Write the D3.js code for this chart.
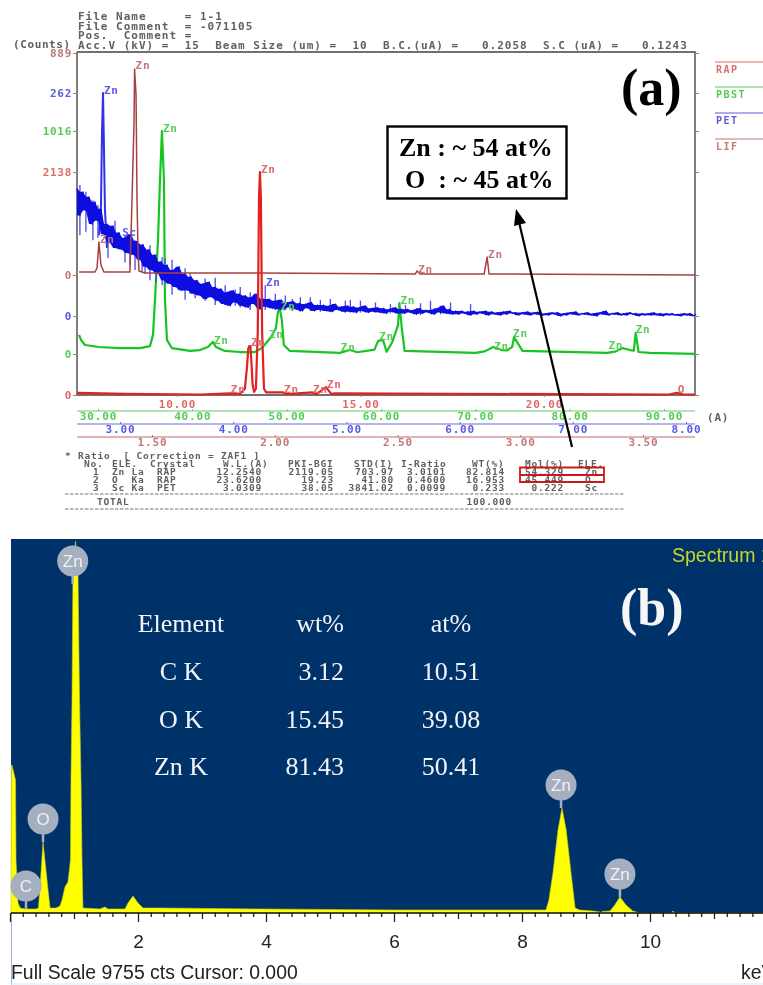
<!DOCTYPE html>
<html><head><meta charset="utf-8">
<script src="https://cdn.jsdelivr.net/npm/d3@7/dist/d3.min.js"></script>
<style>
html,body{margin:0;padding:0;background:#fff;overflow:hidden}
svg{display:block}
text{white-space:pre}
</style></head><body>
<svg id="c" width="763" height="985" xmlns="http://www.w3.org/2000/svg"></svg>
<script>
// ---------- panel (a): WDS spectra; x in Angstrom on each crystal's own axis, y in counts
const rapX=[7.28,8.58,10.63,11.44,11.72,11.85,11.91,11.94,11.97,12.0,12.03,12.06,12.10,12.15,12.2,12.235,12.26,12.285,12.32,12.37,12.43,12.89,13.0,13.68,13.8,14.06,14.2,14.31,23.4,23.62,23.8,24.11];
const rapC=[20,10,5,15,12,60,280,440,470,470,300,100,30,60,600,1900,2138,1900,600,60,25,25,8,25,8,75,10,15,5,22,5,3];
const pbstX=[27.99,28.2,28.62,30.11,32.33,34.45,35.51,35.83,36.04,36.36,36.57,36.78,36.99,37.10,37.31,37.84,39.75,40.81,41.65,42.18,42.5,43.45,45.04,46.63,47.37,48.01,48.43,48.86,49.07,49.28,49.49,49.70,50.34,55.64,56.69,57.5,59.3,59.7,60.2,60.6,61.2,61.8,61.95,62.2,62.5,70.0,71.0,71.9,72.8,73.4,73.9,74.1,75.0,84.0,84.9,85.6,86.4,86.8,87.0,87.3,88.5,93.3];
const pbstC=[87,64,41,32,27,27,36,87,246,519,793,1016,793,246,64,27,14,18,32,55,32,14,9,9,27,59,82,118,191,205,155,41,14,5,18,8,20,60,64,10,55,130,232,120,14,5,12,32,18,16,32,77,14,5,12,27,18,15,96,9,5,1];
const petStart=2.62, petStep=0.02655;
const petC=[150,118,146,124,140,108,134,112,126,96,108,86,106,80,98,78,92,74,96,72,88,66,84,58,78,54,72,50,64,42,60,38,54,34,58,30,50,30,46,26,42,24,38,20,40,22,34,18,32,14,28,12,30,16,26,12,24,10,22,14,26,8,20,11,20,9,18,8,19,7,16,10,17,8,15,6,14,9,16,6,13,7,13,6,12,5,14,7,11,5,12,5,11,4,10,6,12,4,9,5,10,4,9,3,8,5,10,3,8,3,8,4,7,2,9,3,7,4,7,2,9,4,12,3,8,2,6,2,6,3,5,1,6,2,5,3,6,1,5,2,4,1,5,2,6,3,4,1,4,2,5,1,4,2,5,1,3,1,4,2,4,0,3,1,4,2,5,1,3,2,4,1,3,0,4,2,6,1,3,2,4,1,3,1,4,2,3,0,3,1,3,1,4,1,3,0,3,1,3,1,2,0,3,1,3,0,2];
const petPeakX=[2.815,2.832,2.841,2.85,2.858,2.867,2.885];
const petPeakC=[95,130,215,262,200,125,80];
const petSpikeX=[2.646,2.699,2.761,2.805,2.894,2.956,3.044,3.088,3.133,3.195,3.221,3.265,3.319,3.372,3.398,3.46,3.513,3.575,3.619,3.664,3.752,3.841,3.929,4.018,4.062,4.15,4.283,4.372,4.46,4.522,4.593,4.681,4.77,4.858,4.991,5.035,5.124,5.257,5.389,5.522,5.655,5.743,5.832,5.92,6.097,6.717];
const petSpikeHi=[154,146,136,130,107,112,95,92,89,78,80,83,72,69,68,66,54,56,50,42,44,45,36,31,34,28,36,26,24,20,22,22,19,20,18,19,18,16,14,13,15,18,11,16,14,7];
const petSpikeLo=[95,99,89,92,68,80,63,60,54,52,50,42,39,36,38,25,31,19,26,21,18,13,13,12,10,7,7,7,8,6,5,6,5,5,4,4,4,4,3,3,1,2,2,3,1,0];
const lifX=[1.203,1.268,1.276,1.284,1.292,1.304,1.41,1.414,1.418,1.427,1.429,1.435,1.439,1.443,1.447,1.471,1.94,2.572,2.58,2.592,2.853,2.865,2.873,3.713];
const lifC=[12,12,28,132,40,12,12,140,280,621,825,721,300,100,16,8,8,4,16,4,4,72,4,0];

const rapTicks=[10,15,20], pbstTicks=[30,40,50,60,70,80,90], petTicks=[3,4,5,6,7,8], lifTicks=[1.5,2,2.5,3,3.5];
const maxCounts={lif:889,pet:262,pbst:1016,rap:2138};

// peak markers: position on the series' axis, counts, label
const rapPeaks=[[8.58,20,""],[11.44,20,"Zn"],[11.99,470,"Zn"],[12.26,2138,"Zn"],[12.89,25,"Zn"],[13.68,25,"Zn"],[14.06,75,"Zn"],[14.31,15,""],[23.62,22,"O"]];
const pbstPeaks=[[30.11,45,""],[36.36,500,""],[36.78,1016,"Zn"],[42.18,50,"Zn"],[48.01,77,"Zn"],[49.28,205,"Zn"],[55.64,18,"Zn"],[59.7,64,"Zn"],[61.95,232,"Zn"],[71.0,32,""],[71.9,22,"Zn"],[73.9,82,"Zn"],[84.0,27,"Zn"],[86.9,96,"Zn"]];
const petPeaks=[[2.85,262,"Zn"],[3.01,95,"Sc"],[2.88,95,""],[4.28,36,"Zn"]];
const lifPeaks=[[1.284,132,"Zn"],[1.429,825,"Zn"],[2.58,12,"Zn"],[2.865,72,"Zn"]];

const headerLines=["File Name     = 1-1","File Comment  = -071105","Pos.  Comment ="];
const acqLine="Acc.V (kV) =  15  Beam Size (um) =  10  B.C.(uA) =   0.2058  S.C (uA) =   0.1243";
const legendNames=["RAP","PBST","PET","LIF"];
const tableHead=["No.","ELE.","Crystal","W.L.(A)","PKI-BGI","STD(I)","I-Ratio","WT(%)","Mol(%)","ELE."];
const tableRows=[["1","Zn La","RAP","12.2540","2119.05","703.97","3.0101","82.814","54.329","Zn"],
                 ["2","O  Ka","RAP","23.6200","19.23","41.80","0.4600","16.953","45.449","O"],
                 ["3","Sc Ka","PET","3.0309","38.05","3841.02","0.0099","0.233","0.222","Sc"]];
const totalWt="100.000";

// ---------- panel (b): EDS spectrum
const edsKeV=[0.015,0.02,0.03,0.086,0.094,0.125,0.16,0.234,0.406,0.445,0.477,0.516,0.578,0.625,0.72,0.781,0.8125,0.859,0.906,0.945,0.953,0.969,0.984,1.023,1.0625,1.086,1.109,1.125,1.14,1.406,1.484,1.53,1.797,1.844,1.922,2.0,2.078,2.344,3.906,6.016,8.375,8.42,8.484,8.5625,8.625,8.69,8.766,8.83,8.9,9.11,9.22,9.23,9.25,9.375,9.45,9.53,9.625,9.73,9.84,10.33,10.36,10.39,11.77];
const edsC=[0,3880,3880,3487,1390,262,131,105,105,131,865,1862,865,131,131,184,341,682,813,1390,3487,5585,8862,9755,8862,5585,3487,1390,131,105,157,105,105,262,446,262,131,131,105,79,79,341,1049,2176,2753,2176,1049,131,79,52,26,0,40,52,210,420,210,52,0,0,50,0,0];
const edsBubbles=[["C",0.25,105],["O",0.516,1862],["Zn",0.98,8626],["Zn",8.61,2753],["Zn",9.53,420]];
const edsTicks=[2,4,6,8,10];
const edsTable=[["Element","wt%","at%"],["C K","3.12","10.51"],["O K","15.45","39.08"],["Zn K","81.43","50.41"]];
const edsFooter="Full Scale 9755 cts Cursor: 0.000";

// ---------- drawing
const svg=d3.select("#c");
const defs=svg.append("defs");
defs.append("filter").attr("id","soft").attr("x","-5%").attr("y","-5%").attr("width","110%").attr("height","110%")
  .append("feGaussianBlur").attr("stdDeviation",0.5);
defs.append("filter").attr("id","soft2").attr("x","-5%").attr("y","-5%").attr("width","110%").attr("height","110%")
  .append("feGaussianBlur").attr("stdDeviation",0.35);
svg.append("rect").attr("width",763).attr("height",985).attr("fill","#fff");

const A=svg.append("g").attr("filter","url(#soft)");
const MONO="'DejaVu Sans Mono',monospace", SERIF="'Liberation Serif',serif", SANS="'Liberation Sans',sans-serif";
const col={rap:"#e02020",pbst:"#18c420",pet:"#1010e0",lif:"#a84040"};
const lab={rap:"#e06a6a",pbst:"#55cc55",pet:"#5a5ae0",lif:"#c07878"};

const L=77,R=695,T=52,B=395;
const xRap=d3.scaleLinear().domain([10,20]).range([177,544]);
const xPbst=d3.scaleLinear().domain([30,90]).range([98,664]);
const xPet=d3.scaleLinear().domain([3,8]).range([120,686]);
const xLif=d3.scaleLinear().domain([1.5,3.5]).range([152,643]);
const yRap=d3.scaleLinear().domain([0,maxCounts.rap]).range([395,172]);
const yPbst=d3.scaleLinear().domain([0,maxCounts.pbst]).range([354,131]);
const yPet=d3.scaleLinear().domain([0,maxCounts.pet]).range([316,93]);
const yLif=d3.scaleLinear().domain([0,maxCounts.lif]).range([275,53]);

function mono(g,x,y,s,color,size,ls,anchor){
  return g.append("text").attr("x",x).attr("y",y).text(s).attr("fill",color||"#606060")
    .attr("font-family",MONO).attr("font-size",size||11).attr("letter-spacing",ls==null?1.0:ls)
    .attr("font-weight",600).attr("text-anchor",anchor||"start");
}
headerLines.forEach((s,i)=>mono(A,78,[20,29.5,39][i],s));
mono(A,78,49,acqLine);
mono(A,13,48,"(Counts)","#606060",11,0.6);

// frame
A.append("path").attr("d",`M${L},${T}H${R}V${B}M${L},${T}V${B}H${R}`).attr("fill","none").attr("stroke","#707070").attr("stroke-width",1.8);

function yAxis(scale,max,c){
  const g=A.append("g").attr("transform",`translate(${L},0)`)
    .call(d3.axisLeft(scale).tickValues([0,max]).tickFormat(d3.format("d")).tickSize(4).tickPadding(1));
  g.select(".domain").remove();
  g.selectAll("line").attr("stroke","#888");
  g.selectAll("text").attr("fill",c).attr("font-family",MONO).attr("font-size",11).attr("font-weight",600).attr("letter-spacing",0.7);
  const r=A.append("g").attr("transform",`translate(${R},0)`)
    .call(d3.axisRight(scale).tickValues([0,max]).tickFormat("").tickSize(4));
  r.select(".domain").remove(); r.selectAll("line").attr("stroke","#888");
}
yAxis(yLif,maxCounts.lif,lab.lif);
yAxis(yPet,maxCounts.pet,lab.pet);
yAxis(yPbst,maxCounts.pbst,lab.pbst);
yAxis(yRap,maxCounts.rap,lab.rap);

// series
const line=(xs,ys,c,w,x,y)=>{
  const pts=xs.map((v,i)=>[x(v),y(ys[i])]);
  A.append("path").attr("d",d3.line()(pts)).attr("fill","none").attr("stroke",c).attr("stroke-width",w).attr("stroke-linejoin","round");
};
line(pbstX,pbstC,col.pbst,2.2,xPbst,yPbst);
// PET: noisy band
const petX=petC.map((_,i)=>petStart+i*petStep);
petSpikeX.forEach((v,i)=>A.append("line").attr("x1",xPet(v)).attr("x2",xPet(v)).attr("y1",yPet(petSpikeLo[i])).attr("y2",yPet(petSpikeHi[i])).attr("stroke","#4a4ae8").attr("stroke-width",1.3));
line(petPeakX,petPeakC,"#3030e8",2,xPet,yPet);
const band=petC.slice(0,-1).map((v,i)=>({x:petX[i],hi:Math.max(v,petC[i+1]),lo:Math.min(v,petC[i+1])}));
A.append("path").attr("d",d3.area().x(d=>xPet(d.x)).y0(d=>yPet(d.lo)).y1(d=>yPet(d.hi))(band)).attr("fill",col.pet);
line(petX,petC,col.pet,1.2,xPet,yPet);
line(lifX,lifC,col.lif,1.5,xLif,yLif);
line(rapX,rapC,col.rap,2.2,xRap,yRap);

// peak markers
function peaks(list,x,y,c){
  list.forEach(p=>{
    const px=x(p[0]),py=y(p[1]);
    A.append("path").attr("d",d3.symbol(d3.symbolTimes,14)()).attr("transform",`translate(${px},${py})`).attr("fill","#444");
    if(p[2]) mono(A,px+1,py+0.5,p[2],c,11,0.7);
  });
}
peaks(lifPeaks,xLif,yLif,lab.lif);
peaks(petPeaks,xPet,yPet,lab.pet);
peaks(pbstPeaks,xPbst,yPbst,lab.pbst);
peaks(rapPeaks,xRap,yRap,lab.rap);

// bottom wavelength axes
function xAxis(scale,ticks,yLine,c,tc,pad,tick){
  const g=A.append("g").attr("transform",`translate(0,${yLine})`)
    .call(d3.axisBottom(scale).tickValues(ticks).tickFormat(d3.format(".2f")).tickSize(tick).tickPadding(pad));
  g.select(".domain").remove();
  g.selectAll("line").attr("stroke",c||"#888");
  g.selectAll("text").attr("fill",tc).attr("font-family",MONO).attr("font-size",11).attr("font-weight",600).attr("letter-spacing",0.85);
  if(c){A.append("line").attr("x1",L).attr("x2",R).attr("y1",yLine).attr("y2",yLine).attr("stroke",c).attr("stroke-width",1.2);}
}
xAxis(xRap,rapTicks,395,null,lab.rap,3,2);
xAxis(xPbst,pbstTicks,411,"#66cc66",lab.pbst,1.5,-2);
xAxis(xPet,petTicks,424,"#6a6ae0",lab.pet,1.5,-2);
xAxis(xLif,lifTicks,437,"#c06a6a",lab.lif,1.5,-2);
mono(A,707,421,"(A)","#606060",11,0.8);

// legend
legendNames.forEach((n,i)=>{
  const k=["rap","pbst","pet","lif"][i], y=[62,87,113,139][i];
  A.append("line").attr("x1",715).attr("x2",763).attr("y1",y).attr("y2",y).attr("stroke",lab[k]).attr("stroke-width",1.2);
  mono(A,716,y+11,n,lab[k],10,1.5);
});

// quant table
mono(A,65,458.5,"* Ratio  [ Correction = ZAF1 ]","#606060",9.5,0.78);
const headX=[84,112,150,223,288,354,401,472,525,578];
tableHead.forEach((s,i)=>mono(A,headX[i],466.5,s,"#606060",9.5,0.78));
const cols=[[93,"start"],[112,"start"],[157,"start"],[262,"end"],[334,"end"],[394,"end"],[446,"end"],[505,"end"],[564,"end"],[585,"start"]];
tableRows.forEach((r,j)=>r.forEach((s,i)=>mono(A,cols[i][0],[474.5,482.5,490.5][j],s,"#606060",9.5,0.78,cols[i][1])));
mono(A,97,505,"TOTAL","#606060",9.5,0.78);
mono(A,512,505,totalWt,"#606060",9.5,0.78,"end");
[494,509].forEach(y=>A.append("line").attr("x1",65).attr("x2",624).attr("y1",y).attr("y2",y).attr("stroke","#777").attr("stroke-width",1).attr("stroke-dasharray","3.5 1.5"));

// annotations
const N=svg.append("g").attr("filter","url(#soft2)");
N.append("path").attr("d","M520,467.5H604V482H520ZM520,475H604").attr("fill","none").attr("stroke","#d01515").attr("stroke-width",1.8);
N.append("rect").attr("x",387.5).attr("y",126.5).attr("width",179).attr("height",72).attr("fill","#fff").attr("stroke","#000").attr("stroke-width",2.4);
const ser=(g,x,y,s,size,c,w,a)=>g.append("text").attr("x",x).attr("y",y).text(s).attr("font-family",SERIF).attr("font-size",size).attr("fill",c).attr("font-weight",w||"normal").attr("text-anchor",a||"start");
ser(N,399,156,"Zn : ~ 54 at%",26,"#000","bold");
ser(N,405,188,"O  : ~ 45 at%",26,"#000","bold");
ser(N,621,105,"(a)",52,"#000","bold");
N.append("line").attr("x1",572).attr("y1",447).attr("x2",519).attr("y2",222).attr("stroke","#000").attr("stroke-width",2.2);
N.append("path").attr("d","M516,209L526,223L514,226Z").attr("fill","#000");

// ---------- panel (b)
const P=svg.append("g").attr("filter","url(#soft2)");
P.append("rect").attr("x",11).attr("y",539).attr("width",752).attr("height",374).attr("fill","#06336a");
P.append("line").attr("x1",11.5).attr("x2",11.5).attr("y1",913).attr("y2",985).attr("stroke","#9db8d8").attr("stroke-width",1);
P.append("line").attr("x1",11).attr("x2",763).attr("y1",984).attr("y2",984).attr("stroke","#dbe7f3").attr("stroke-width",1);
const xE=d3.scaleLinear().domain([0,10]).range([10,650]);
const yE=d3.scaleLinear().domain([0,9755]).range([913,541]);
P.append("path").attr("d",d3.area().x(d=>xE(d[0])).y0(913).y1(d=>yE(d[1]))(edsKeV.map((k,i)=>[k,edsC[i]])))
  .attr("fill","#ffff00").attr("stroke","#c4cc20").attr("stroke-width",0.6);
const minor=d3.range(0,60).map(i=>i*0.2).filter(v=>Math.abs(v%1)>1e-6&&Math.abs(v%1-1)>1e-6);
const mid=d3.range(1,12,2), majorAll=d3.range(0,13,2);
[[minor,4],[mid,6],[majorAll,9]].forEach(([v,s])=>{
  const g=P.append("g").attr("transform","translate(0,913)").call(d3.axisBottom(xE).tickValues(v).tickFormat("").tickSize(s));
  g.select(".domain").remove(); g.selectAll("line").attr("stroke","#222").attr("stroke-width",1.3);
});
P.append("line").attr("x1",11).attr("x2",763).attr("y1",913).attr("y2",913).attr("stroke","#111").attr("stroke-width",1.6);
const gT=P.append("g").attr("transform","translate(0,913)").call(d3.axisBottom(xE).tickValues(edsTicks).tickFormat(d3.format("d")).tickSize(0).tickPadding(22));
gT.select(".domain").remove();
gT.selectAll("text").attr("fill","#222").attr("font-family",SANS).attr("font-size",19);
P.append("text").attr("x",11).attr("y",979).text(edsFooter).attr("font-family",SANS).attr("font-size",19.4).attr("fill","#222");
P.append("text").attr("x",741).attr("y",979).text("keV").attr("font-family",SANS).attr("font-size",19.4).attr("fill","#222");
edsBubbles.forEach(b=>{
  const px=xE(b[1]),py=yE(b[2]),r=15.5;
  P.append("line").attr("x1",px).attr("x2",px).attr("y1",py).attr("y2",py-23).attr("stroke","#a6afc0").attr("stroke-width",2.5);
  P.append("circle").attr("cx",px).attr("cy",py-23).attr("r",r).attr("fill","#a6afc0");
  P.append("text").attr("x",px).attr("y",py-17).text(b[0]).attr("text-anchor","middle").attr("font-family",SANS).attr("font-size",17).attr("fill","#eef1f6");
});
const colX=[181,344,451], rowY=[632,680,728,775], colA=["middle","end","middle"];
edsTable.forEach((r,j)=>r.forEach((s,i)=>ser(P,colX[i],rowY[j],s,26,"#f2f4f7","normal",colA[i])));
ser(P,620,625,"(b)",52,"#f4f6f8","bold");
P.append("text").attr("x",672).attr("y",562).text("Spectrum 1").attr("font-family",SANS).attr("font-size",19.5).attr("fill","#c4d62a");
</script>
</body></html>
